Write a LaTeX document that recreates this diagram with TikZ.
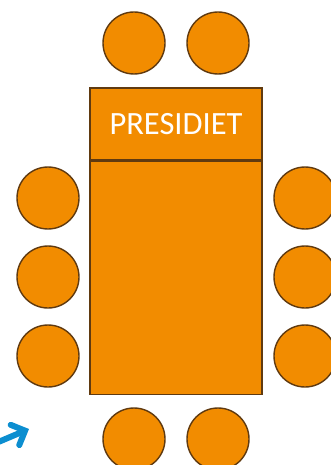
\documentclass[tikz,border=0pt]{standalone}
\usepackage{fontspec}
\setmainfont{Carlito}
\usepackage{tikz}
\usetikzlibrary{arrows.meta,positioning}
\definecolor{tableorange}{RGB}{242,140,0}
\definecolor{edgebrown}{RGB}{96,58,16}
\definecolor{arrowblue}{RGB}{12,142,208}

\begin{document}
\begin{tikzpicture}[
    x=1pt, y=-1pt,
    seat/.style={circle, draw=edgebrown, fill=tableorange, line width=1.4pt, minimum size=62pt, inner sep=0pt},
    board/.style={rectangle, draw=edgebrown, fill=tableorange, line width=1.4pt, minimum width=172pt, inner sep=0pt},
    pointer/.style={arrowblue, line width=6pt, line cap=round, -{Straight Barb[length=11pt, width=22pt, line cap=round]}}
]
    \useasboundingbox (0,0) rectangle (331,465);

    % table
    \node[board, minimum height=72pt, text=white, font=\fontsize{32.5}{33}\selectfont] (head) at (176,124) {PRESIDIET};
    \node[board, minimum height=233pt, below=0pt of head] (table) {};

    % seats above and below
    \node[seat] (top1) at (134,43) {};
    \node[seat] (top2) at (218,43) {};
    \node[seat] (bot1) at (134,439) {};
    \node[seat] (bot2) at (218,439) {};

    % seats on the sides
    \node[seat] (left1) at (48,198) {};
    \node[seat] (left2) at (48,277) {};
    \node[seat] (left3) at (48,356) {};
    \node[seat] (right1) at (305,198) {};
    \node[seat] (right2) at (305,277) {};
    \node[seat] (right3) at (305,356) {};

    % arrow
    \coordinate (pilstart) at (-4,443);
    \coordinate (pilend) at (29,429);
    \draw[pointer] (pilstart) -- (pilend);
\end{tikzpicture}
\end{document}
